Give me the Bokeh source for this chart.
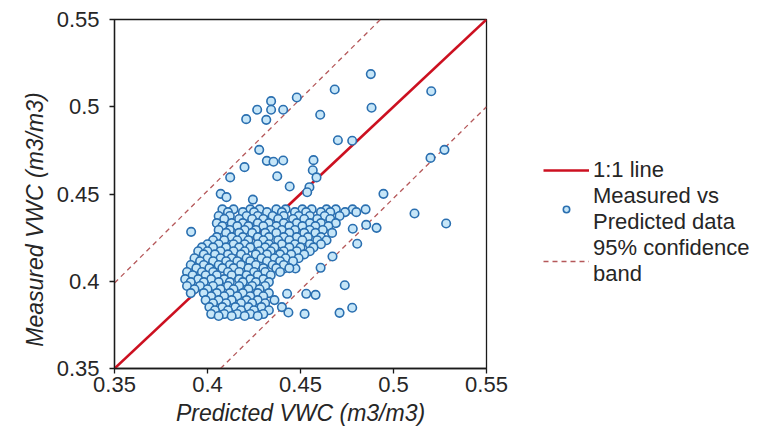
from bokeh.plotting import figure
from bokeh.models import Range1d, Legend, LegendItem, FixedTicker
from bokeh.embed import file_html
from bokeh.resources import INLINE

# ---------------- data ----------------
tick_values = [0.35, 0.40, 0.45, 0.50, 0.55]
tick_labels = ["0.35", "0.4", "0.45", "0.5", "0.55"]

one_to_one_x = [0.35, 0.55]
one_to_one_y = [0.35, 0.55]

upper_band_x = [0.35, 0.493]
upper_band_y = [0.399, 0.55]
lower_band_x = [0.407, 0.55]
lower_band_y = [0.35, 0.500]

# dense cluster, read row by row (measured VWC level -> predicted VWC values)
cluster_levels = [0.4412, 0.4396, 0.4374, 0.4357, 0.4333, 0.4316, 0.4294, 0.4277,
                  0.4253, 0.4235, 0.4212, 0.4194, 0.4172, 0.4154, 0.4132, 0.4115,
                  0.4093, 0.4075, 0.4053, 0.4034, 0.4012, 0.3995, 0.3973, 0.3954,
                  0.3932, 0.3914, 0.3892, 0.3874, 0.3852, 0.3834, 0.3812, 0.3801]
cluster_rows = [
    [0.408, 0.414, 0.423, 0.428, 0.437, 0.442, 0.451, 0.456, 0.464, 0.469, 0.478, 0.485],
    [0.411, 0.419, 0.425, 0.432, 0.440, 0.447, 0.453, 0.461, 0.466, 0.474, 0.480],
    [0.406, 0.412, 0.421, 0.427, 0.435, 0.441, 0.449, 0.455, 0.463, 0.471],
    [0.409, 0.417, 0.424, 0.430, 0.438, 0.446, 0.452, 0.459, 0.466],
    [0.405, 0.413, 0.419, 0.427, 0.433, 0.441, 0.448, 0.455, 0.461, 0.469],
    [0.408, 0.416, 0.422, 0.430, 0.437, 0.444, 0.451, 0.458, 0.465],
    [0.406, 0.412, 0.420, 0.426, 0.434, 0.440, 0.447, 0.455, 0.462],
    [0.410, 0.417, 0.424, 0.431, 0.437, 0.444, 0.452, 0.458, 0.467],
    [0.405, 0.413, 0.419, 0.427, 0.433, 0.441, 0.448, 0.454, 0.461],
    [0.403, 0.409, 0.416, 0.422, 0.430, 0.438, 0.444, 0.451, 0.459, 0.464],
    [0.400, 0.406, 0.414, 0.420, 0.427, 0.433, 0.440, 0.447, 0.455, 0.461],
    [0.397, 0.403, 0.410, 0.417, 0.423, 0.431, 0.436, 0.444, 0.450, 0.457],
    [0.395, 0.400, 0.407, 0.414, 0.420, 0.428, 0.434, 0.441, 0.448, 0.455],
    [0.398, 0.404, 0.411, 0.418, 0.426, 0.432, 0.439, 0.445, 0.452],
    [0.393, 0.400, 0.407, 0.413, 0.421, 0.429, 0.436, 0.442, 0.449],
    [0.396, 0.403, 0.410, 0.416, 0.423, 0.432, 0.439, 0.446],
    [0.391, 0.398, 0.406, 0.412, 0.418, 0.426, 0.435, 0.441],
    [0.394, 0.401, 0.408, 0.414, 0.422, 0.430, 0.437, 0.444],
    [0.389, 0.397, 0.403, 0.411, 0.417, 0.425, 0.431, 0.439],
    [0.392, 0.399, 0.405, 0.413, 0.421, 0.427, 0.434],
    [0.388, 0.395, 0.402, 0.409, 0.417, 0.423, 0.430],
    [0.391, 0.398, 0.406, 0.412, 0.419, 0.426, 0.433],
    [0.389, 0.396, 0.403, 0.411, 0.417, 0.424, 0.431],
    [0.393, 0.400, 0.407, 0.414, 0.422, 0.428],
    [0.391, 0.398, 0.405, 0.412, 0.419, 0.427, 0.433],
    [0.402, 0.409, 0.416, 0.423, 0.430],
    [0.399, 0.406, 0.413, 0.421, 0.427, 0.436],
    [0.403, 0.410, 0.418, 0.424, 0.431],
    [0.401, 0.408, 0.415, 0.422, 0.429, 0.440],
    [0.404, 0.411, 0.418, 0.425, 0.433],
    [0.402, 0.409, 0.416, 0.423, 0.430],
    [0.406, 0.413, 0.420, 0.427],
]

# scattered points outside the dense cluster
scatter_x = [0.4878, 0.4684, 0.5203, 0.4342, 0.4480, 0.4267, 0.4342, 0.4407, 0.4208, 0.4316,
             0.4606, 0.4882, 0.4701, 0.4778, 0.4278, 0.4319, 0.4355, 0.4407, 0.4570, 0.4566,
             0.4586, 0.4199, 0.4122, 0.4375, 0.4442, 0.4548, 0.4536, 0.5199, 0.5274, 0.4946,
             0.4071, 0.4102, 0.4244, 0.3912, 0.5113, 0.5283, 0.4738, 0.4778, 0.4710, 0.4522,
             0.4435, 0.4531, 0.4581, 0.4428, 0.4909, 0.4853, 0.4805, 0.4781, 0.4672, 0.4608,
             0.4473, 0.4412]
scatter_y = [0.5187, 0.5099, 0.5089, 0.5032, 0.5053, 0.4983, 0.4983, 0.4983, 0.4929, 0.4925,
             0.4954, 0.4994, 0.4808, 0.4805, 0.4753, 0.4690, 0.4685, 0.4692, 0.4694, 0.4636,
             0.4595, 0.4654, 0.4595, 0.4602, 0.4543, 0.4539, 0.4510, 0.4707, 0.4753, 0.4501,
             0.4501, 0.4482, 0.4468, 0.4283, 0.4388, 0.4331, 0.3977, 0.3848, 0.3819, 0.3813,
             0.3821, 0.3928, 0.3922, 0.3928, 0.4306, 0.4323, 0.4215, 0.4301, 0.4142, 0.4077,
             0.4073, 0.4073]

measured = list(scatter_y)
predicted = list(scatter_x)
for lvl, row in zip(cluster_levels, cluster_rows):
    for xv in row:
        predicted.append(xv)
        measured.append(lvl)

# ---------------- figure ----------------
FONT = "Liberation Sans"
TXT = "#262626"

p = figure(frame_width=372, frame_height=349, output_backend="svg", toolbar_location=None,
           x_range=Range1d(0.35, 0.55), y_range=Range1d(0.35, 0.55),
           min_border_left=114, min_border_right=279, min_border_top=19,
           min_border_bottom=77, background_fill_color="white",
           border_fill_color="white")

p.xgrid.visible = False
p.ygrid.visible = False
p.outline_line_color = "#1a1a1a"
p.outline_line_width = 1.3

for ax in (p.xaxis[0], p.yaxis[0]):
    ax.ticker = FixedTicker(ticks=tick_values)
    ax.major_label_overrides = dict(zip(tick_values, tick_labels))
    ax.minor_tick_line_color = None
    ax.major_tick_in = 0
    ax.major_tick_out = 5
    ax.axis_line_color = "#1a1a1a"
    ax.axis_line_width = 1.3
    ax.major_tick_line_color = "#1a1a1a"
    ax.major_tick_line_width = 1.3
    ax.major_label_text_font = FONT
    ax.major_label_text_font_size = "22px"
    ax.major_label_text_color = TXT
    ax.axis_label_text_font = FONT
    ax.axis_label_text_font_size = "23px"
    ax.axis_label_text_font_style = "italic"
    ax.axis_label_text_color = TXT

p.yaxis.major_label_standoff = 10
p.xaxis.major_label_standoff = 3
p.xaxis.axis_label = "Predicted VWC (m3/m3)"
p.xaxis.axis_label_standoff = 5
# trailing no-break spaces move the rotated title a little lower, as in the reference
p.yaxis.axis_label = "Measured VWC (m3/m3)" + "\u00a0" * 8
p.yaxis.axis_label_standoff = 6

r_one = p.line(one_to_one_x, one_to_one_y, line_color="#cc1020", line_width=2.6)
r_band = p.line(upper_band_x, upper_band_y, line_color="#b5585a", line_width=1.3,
                line_dash="5 4")
p.line(lower_band_x, lower_band_y, line_color="#b5585a", line_width=1.3, line_dash="5 4")
r_pts = p.scatter(predicted, measured, marker="circle", size=8.5,
                  line_color="#2a6fb0", line_width=1.6, fill_color="#c6e6f8")

legend = Legend(items=[
    LegendItem(label="1:1 line", renderers=[r_one]),
    LegendItem(label="Measured vs\nPredicted data", renderers=[r_pts]),
    LegendItem(label="95% confidence\nband", renderers=[r_band]),
], location=(57, 81))
legend.label_text_font = FONT
legend.label_text_font_size = "22px"
legend.label_text_color = TXT
legend.label_text_line_height = 0.8
legend.label_height = 16
legend.glyph_height = 16
legend.glyph_width = 46
legend.label_standoff = 4
legend.spacing = 0
legend.padding = 0
legend.margin = 0
legend.border_line_color = None
legend.background_fill_alpha = 0
p.add_layout(legend, "right")

open("out.html", "w").write(file_html(p, INLINE))
